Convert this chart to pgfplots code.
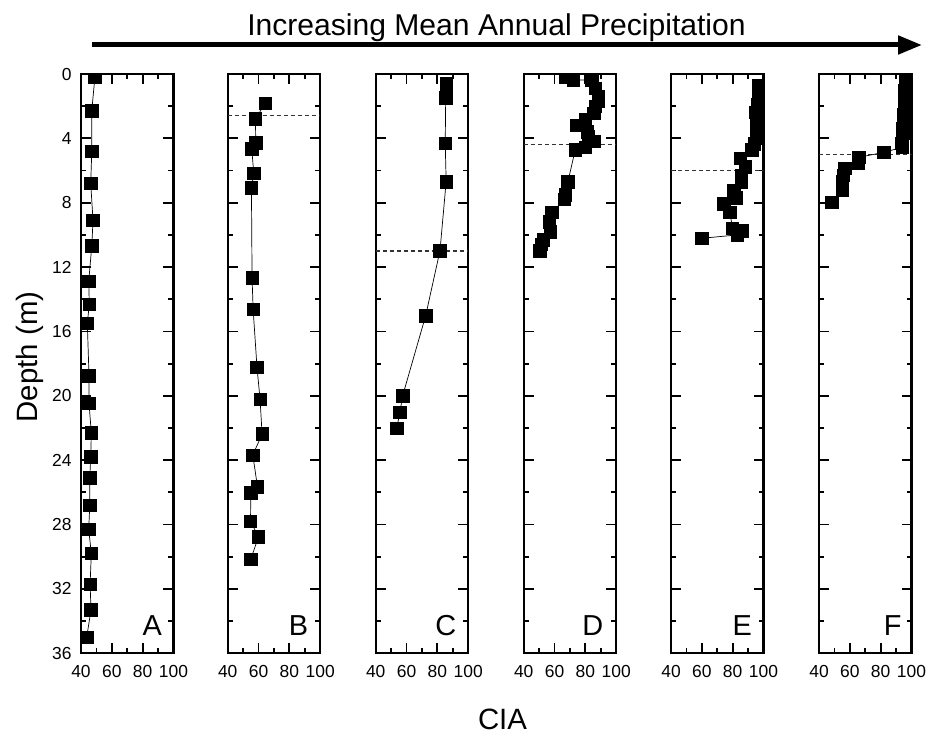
\documentclass[border=0pt]{standalone}
\usepackage{fontspec}
\setmainfont{Liberation Sans}
\usepackage{pgfplots}
\pgfplotsset{compat=1.18}
\usetikzlibrary{arrows.meta}

\pgfplotsset{panel/.style={
  scale only axis, width=92.5bp, height=579.3bp, anchor=south west,
  xmin=40, xmax=100, ymin=0, ymax=36, y dir=reverse,
  xtick={40,60,80,100}, minor xtick={50,70,90},
  ytick={0,4,...,36}, minor ytick={2,6,...,34},
  yticklabels={},
  tick align=inside,
  major tick length=10bp, minor tick length=5bp,
  axis line style={line width=2.2bp},
  tick style={black, line width=1.8bp},
  tick label style={font=\fontsize{17.5}{20}\selectfont},
  /pgf/number format/assume math mode=true,
  xticklabel style={yshift=-8bp},
  clip marker paths=true,
}}
\tikzset{
  data/.style={black, line width=0.7bp, mark=square*, mark size=6.2bp, mark options={solid}},
  depthline/.style={black!80, line width=1.1bp, dash pattern=on 4bp off 3bp},
  letter/.style={font=\fontsize{29}{30}\selectfont, anchor=base east, inner sep=0pt},
}

\begin{document}
\begin{tikzpicture}
\useasboundingbox (0,0) rectangle (930bp,736bp);

% Panel A
\begin{axis}[panel, at={(81bp,82.7bp)},
  yticklabels={0,4,8,12,16,20,24,28,32,36},
  yticklabel style={xshift=-6bp}]
\addplot[data] coordinates {
(49,0.2) (47,2.28) (47,4.79) (46.3,6.8) (47.8,9.1) (47,10.67) (45,12.9) (45.4,14.3)
(44.1,15.5) (45.2,18.75) (45.2,20.47) (46.7,22.3) (46.3,23.8) (45.7,25.1) (45.7,26.8)
(45,28.3) (46.7,29.8) (45.9,31.7) (46.5,33.3) (43.7,35.0)};
\node[letter] at (axis cs:92.6,34.87) {A};
\end{axis}

% Panel B
\begin{axis}[panel, at={(227.7bp,82.7bp)}]
\addplot[depthline, forget plot] coordinates {(40,2.6) (100,2.6)};
\addplot[data] coordinates {
(64.4,1.82) (58,2.78) (58.2,4.27) (55.6,4.64) (56.9,6.17) (55.4,7.08) (55.8,12.66)
(56.5,14.63) (59,18.23) (61,20.22) (62.3,22.37) (56.3,23.68) (59.3,25.65) (55,26.02)
(54.8,27.8) (59.9,28.76) (55,30.16)};
\node[letter] at (axis cs:92.3,34.87) {B};
\end{axis}

% Panel C
\begin{axis}[panel, at={(375.7bp,82.7bp)}]
\addplot[depthline, forget plot] coordinates {(40,11) (100,11)};
\addplot[data] coordinates {
(86,0.62) (85.4,1.47) (85.1,4.31) (85.7,6.69) (81.7,10.98) (72.4,15.02) (57.5,19.99)
(55.7,21.03) (53.6,22.02)};
\node[letter] at (axis cs:92.3,34.87) {C};
\end{axis}

% Panel D
\begin{axis}[panel, at={(523.7bp,82.7bp)}]
\addplot[depthline, forget plot] coordinates {(40,4.37) (100,4.37)};
\addplot[data] coordinates {
(67,0.17) (72.3,0.37) (84.3,0.37) (86.5,0.9) (88.6,1.4) (88.3,1.7) (86.5,2.0) (85.4,2.45)
(80,2.8) (74.1,3.2) (81.3,3.6) (82.1,3.9) (85.4,4.2) (80,4.56) (73.4,4.72) (68.7,6.69)
(67,7.52) (66.5,7.8) (58.3,8.6) (56.5,9.2) (57.2,9.8) (52.8,10.3) (51.3,10.6) (50.6,11.0)};
\node[letter] at (axis cs:91.7,34.87) {D};
\end{axis}

% Panel E
\begin{axis}[panel, at={(671bp,82.7bp)}]
\addplot[depthline, forget plot] coordinates {(40,6.0) (100,6.0)};
\addplot[data] coordinates {
(96.5,0.7) (96.5,1.1) (96.5,1.5) (96.3,1.9) (95,2.4) (95.5,2.8) (95.8,3.2) (95.8,3.6)
(95.5,4.0) (94,4.35) (92.4,4.72) (84.8,5.24) (88.3,5.76) (85.7,6.28) (85.7,6.75)
(80.8,7.25) (82.5,7.69) (74.3,8.08) (78.2,8.6) (79.9,9.59) (86.1,9.74) (82.9,10.0)
(59.9,10.21)};
\node[letter] at (axis cs:92.6,34.87) {E};
\end{axis}

% Panel F
\begin{axis}[panel, at={(819bp,82.7bp)}]
\addplot[depthline, forget plot] coordinates {(40,5.0) (100,5.0)};
\addplot[data] coordinates {
(96.2,0.1) (96,0.4) (96,0.7) (95.8,1.0) (95.6,1.3) (95.5,1.6) (95.3,1.9) (95.2,2.2)
(95,2.5) (94.8,2.8) (94.6,3.1) (94.4,3.4) (94.3,3.7) (94,4.0) (93.8,4.3) (94.2,4.55)
(82,4.87) (65.9,5.18) (65.5,5.55) (56.8,5.86) (55.7,6.28) (55.1,6.69) (55.1,7.21)
(48.2,7.97)};
\node[letter] at (axis cs:93.7,34.87) {F};
\end{axis}

% Title, arrow and axis titles
\node[font=\fontsize{30.2}{31}\selectfont, anchor=base] at (496.5bp,700bp) {Increasing Mean Annual Precipitation};
\draw[line width=5bp, -{Triangle[length=24bp,width=18bp]}] (92bp,691bp) -- (922bp,691bp);
\node[font=\fontsize{29.5}{30}\selectfont, rotate=90, anchor=center] at (30bp,379bp) {Depth (m)};
\node[font=\fontsize{29.5}{30}\selectfont, anchor=base] at (502.5bp,7bp) {CIA};
\end{tikzpicture}
\end{document}
